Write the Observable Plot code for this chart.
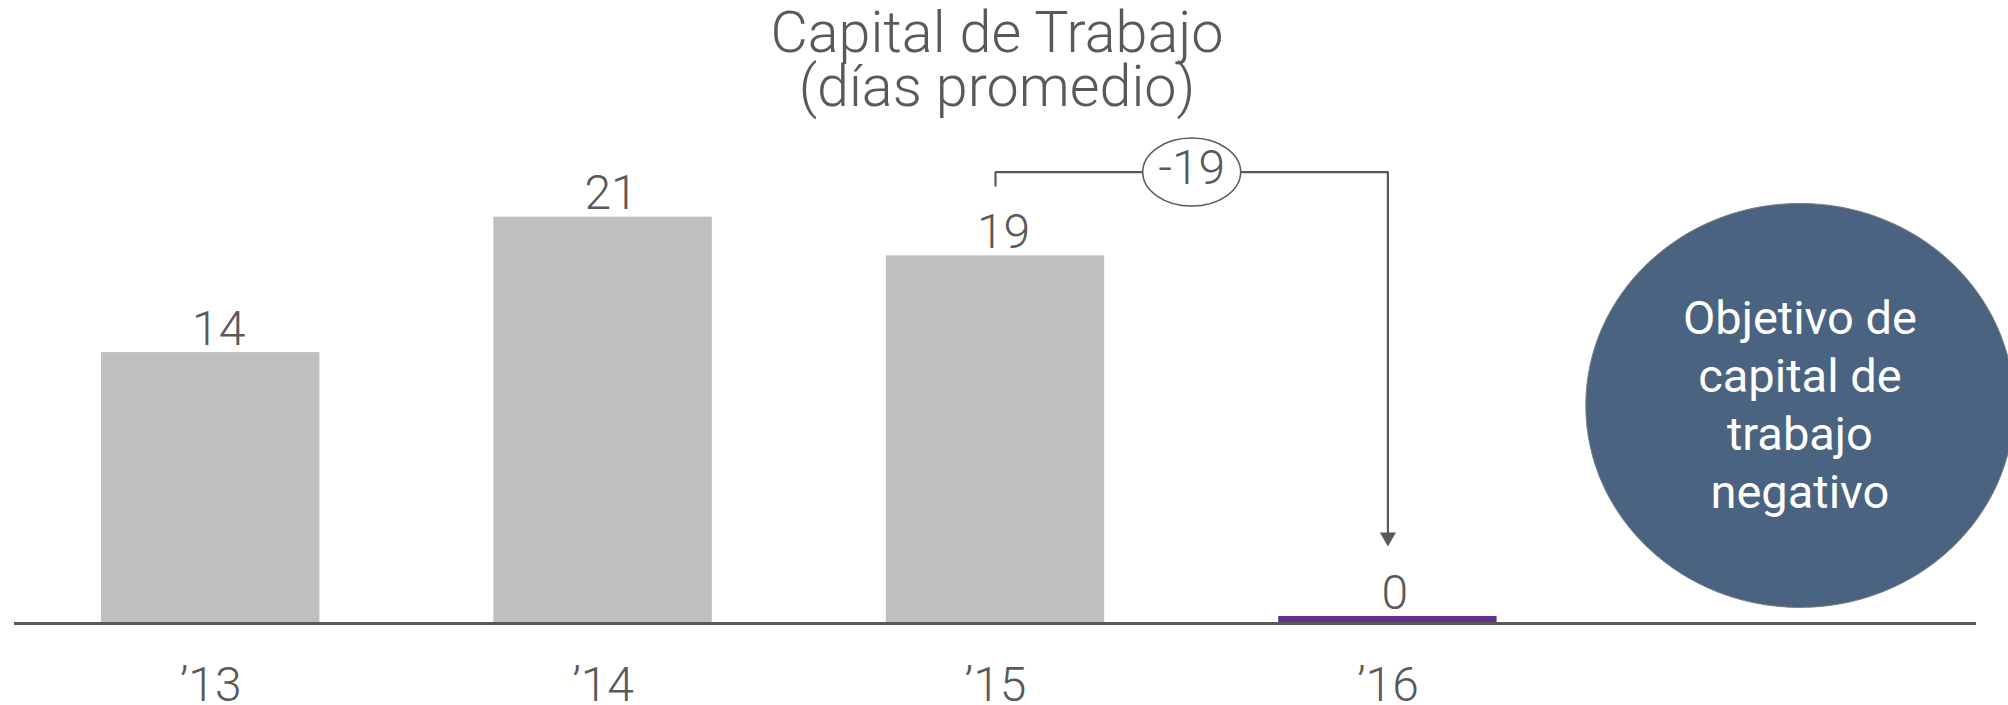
<!DOCTYPE html>
<html><head><meta charset="utf-8">
<script src="https://cdn.jsdelivr.net/npm/d3@7"></script>
<script src="https://cdn.jsdelivr.net/npm/@observablehq/plot@0.6"></script>
<style>
html,body{margin:0;padding:0;background:#fff;}
#title{height:125px;width:1994px;text-align:center;font-family:Roboto,sans-serif;font-weight:300;font-size:57.5px;line-height:54px;color:#595959;padding-top:6px;box-sizing:border-box;}
#chart svg{display:block;}
</style></head><body>
<div id="title">Capital de Trabajo<br>(días promedio)</div>
<div id="chart"></div>
<script>
const years = [13, 14, 15, 16];
const yearLabels = ["’13", "’14", "’15", "’16"];
const values = [14, 21, 19, 0];
const changeLabel = "-19";
const targetText = "Objetivo de\ncapital de\ntrabajo\nnegativo";
// annotation anchors, in data units
const bracketLevel = 23.33;
const bracketDrop = 22.58;
const arrowTip = 3.98;
const targetX = 17.05;
const targetY = 11.27;

const data = years.map((yr, i) => ({year: yr, label: yearLabels[i], value: values[i]}));
const actual = data.filter(d => d.value > 0);
const target = data.filter(d => d.value === 0);
const from = data[2], to = data[3];
const mid = (from.year + to.year) / 2;

function ellipseSymbol(aspect) {
  return {draw(ctx, size) {
    const ry = Math.sqrt(size / Math.PI), rx = ry * aspect, k = 0.5522847498;
    ctx.moveTo(rx, 0);
    ctx.bezierCurveTo(rx, ry * k, rx * k, ry, 0, ry);
    ctx.bezierCurveTo(-rx * k, ry, -rx, ry * k, -rx, 0);
    ctx.bezierCurveTo(-rx, -ry * k, -rx * k, -ry, 0, -ry);
    ctx.bezierCurveTo(rx * k, -ry, rx, -ry * k, rx, 0);
    ctx.closePath();
  }};
}
const arrowHead = {draw(ctx) { ctx.moveTo(-8, -14); ctx.lineTo(8, -14); ctx.lineTo(0, 0); ctx.closePath(); }};

const grey = "#595959";
const bracket = [
  {x: from.year, y: bracketDrop},
  {x: from.year, y: bracketLevel},
  {x: to.year, y: bracketLevel},
  {x: to.year, y: arrowTip + 0.6}
];

const chart = Plot.plot({
  width: 2008, height: 580,
  marginTop: 0, marginBottom: 82, marginLeft: 14, marginRight: 32,
  x: {domain: [12.5, 17.5], axis: null},
  y: {domain: [0, 498 / 19.35], axis: null},
  style: {fontFamily: "Roboto, sans-serif", background: "white"},
  marks: [
    Plot.rect(actual, {x1: d => d.year - 0.5, x2: d => d.year + 0.5, y1: 0, y2: "value", fill: "#bfbfbf", insetLeft: 87, insetRight: 87}),
    Plot.rect(target, {x1: d => d.year - 0.5, x2: d => d.year + 0.5, y1: 0, y2: "value", fill: "#66308f", insetLeft: 87, insetRight: 87, insetTop: -7}),
    Plot.ruleY([0], {stroke: grey, strokeWidth: 3}),
    Plot.text(actual, {x: "year", y: "value", text: d => String(d.value), lineAnchor: "bottom", dx: 8, dy: -8, fontSize: 48, fontWeight: 300, fill: grey}),
    Plot.text(target, {x: "year", y: "value", text: d => String(d.value), lineAnchor: "bottom", dx: 7, dy: -15, fontSize: 48, fontWeight: 300, fill: grey}),
    Plot.text(data, {x: "year", text: "label", frameAnchor: "bottom", lineAnchor: "bottom", dy: 77, fontSize: 48, fontWeight: 300, fill: grey}),
    Plot.line(bracket, {x: "x", y: "y", stroke: grey, strokeWidth: 2.2, strokeLinejoin: "miter", strokeLinecap: "butt"}),
    Plot.dot([{x: to.year, y: arrowTip}], {x: "x", y: "y", r: 1, symbol: arrowHead, fill: grey, stroke: "none"}),
    Plot.dot([{x: mid, y: bracketLevel}], {x: "x", y: "y", r: 34, symbol: ellipseSymbol(1.44), fill: "white", stroke: grey, strokeWidth: 1.5}),
    Plot.text([{x: mid, y: bracketLevel}], {x: "x", y: "y", text: () => changeLabel, lineAnchor: "bottom", dy: 12, fontSize: 48, fontWeight: 300, fill: grey}),
    Plot.dot([{x: targetX, y: targetY}], {x: "x", y: "y", r: 202, symbol: ellipseSymbol(1.06), fill: "#4a6380", stroke: "#7d7d7d", strokeWidth: 1}),
    Plot.text([{x: targetX, y: targetY}], {x: "x", y: "y", text: () => targetText, lineAnchor: "middle", lineHeight: 1.234, dy: -3, fontSize: 47, fontWeight: 400, fill: "white"})
  ]
});
document.getElementById("chart").appendChild(chart);
</script>
</body></html>
